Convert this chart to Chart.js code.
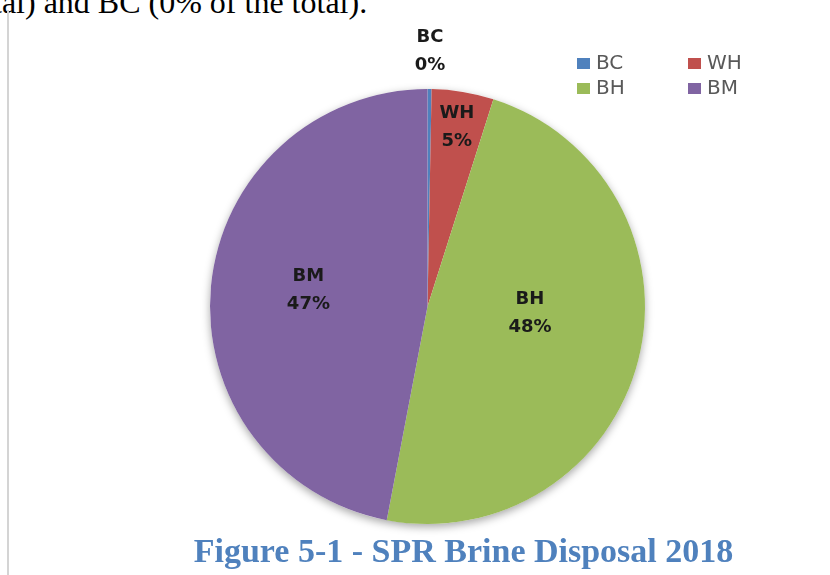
<!DOCTYPE html>
<html>
<head>
<meta charset="utf-8">
<script src="https://cdn.jsdelivr.net/npm/chart.js@4.4.1/dist/chart.umd.min.js"></script>
<style>
  html,body{margin:0;padding:0;background:#fff;width:830px;height:575px;overflow:hidden;}
  #wrap{position:relative;width:830px;height:575px;}
  #pie{position:absolute;left:0;top:0;}
  .topline{position:absolute;left:-7px;top:-16px;font:32px "Liberation Serif","Times New Roman",serif;color:#000;white-space:nowrap;}
  .rule{position:absolute;left:7px;top:10px;width:2px;height:565px;background:#d4d4d4;}
  .caption{position:absolute;left:0;width:927px;top:532px;text-align:center;font:bold 34px "Liberation Serif","Times New Roman",serif;color:#4f81bd;white-space:nowrap;}
</style>
</head>
<body>
<div id="wrap">
  <div class="topline">tal) and BC (0% of the total).</div>
  <div class="rule"></div>
  <canvas id="pie" width="830" height="575"></canvas>
  <div class="caption">Figure 5-1 - SPR Brine Disposal 2018</div>
</div>
<script>
'use strict';

/* ── DATA ──────────────────────────────────── */
const sites   = ['BC', 'WH', 'BH', 'BM'];
const shares  = [0.3, 4.6, 48.1, 47.0];   // percent of total brine disposed
const colours = ['#4f81bd', '#c0504d', '#9bbb59', '#8064a2'];

/* ── LABEL PLACEMENT (style only) ──────────── */
const labelRadius = [1.18, 0.83, 0.50, 0.55];
const labelNudge  = [[0, 1], [0, -1], [-3, -20], [0, -5]];
const legendCols  = [577, 688];
const legendRows  = [63, 88];

const total = shares.reduce((a, b) => a + b, 0);

/* ── PLUGINS ───────────────────────────────── */
const pieShadow = {
  id: 'pieShadow',
  beforeDatasetsDraw(chart) {
    const arc = chart.getDatasetMeta(0).data[0];
    if (!arc) return;
    const { x, y, outerRadius } = arc.getProps(['x', 'y', 'outerRadius'], true);
    const c = chart.ctx;
    c.save();
    c.shadowColor = 'rgba(0,0,0,0.35)';
    c.shadowBlur = 9;
    c.shadowOffsetY = 3;
    c.fillStyle = '#fff';
    c.beginPath();
    c.arc(x, y, outerRadius, 0, Math.PI * 2);
    c.fill();
    c.restore();
  }
};

const sliceLabels = {
  id: 'sliceLabels',
  afterDatasetsDraw(chart) {
    const c = chart.ctx;
    c.save();
    c.font = 'bold 18px "DejaVu Sans", sans-serif';
    c.fillStyle = '#1a1a1a';
    c.textAlign = 'center';
    c.textBaseline = 'middle';
    chart.getDatasetMeta(0).data.forEach((arc, i) => {
      const p = arc.getProps(['x', 'y', 'startAngle', 'endAngle', 'outerRadius'], true);
      const mid = (p.startAngle + p.endAngle) / 2;
      const r = p.outerRadius * labelRadius[i];
      const lx = p.x + Math.cos(mid) * r + labelNudge[i][0];
      const ly = p.y + Math.sin(mid) * r + labelNudge[i][1];
      const pct = Math.round(shares[i] / total * 100) + '%';
      c.fillText(sites[i], lx, ly - 14);
      c.fillText(pct, lx, ly + 14);
    });
    c.restore();
  }
};

const sideLegend = {
  id: 'sideLegend',
  afterDraw(chart) {
    const c = chart.ctx;
    c.save();
    c.font = '20px "DejaVu Sans", sans-serif';
    c.textBaseline = 'middle';
    c.textAlign = 'left';
    sites.forEach((s, i) => {
      const x = legendCols[i % 2], y = legendRows[Math.floor(i / 2)];
      c.fillStyle = colours[i];
      c.fillRect(x, y - 5, 13, 11);
      c.fillStyle = '#595959';
      c.fillText(s, x + 19, y + 1);
    });
    c.restore();
  }
};

/* ── CHART ─────────────────────────────────── */
new Chart(document.getElementById('pie'), {
  type: 'pie',
  data: {
    labels: sites,
    datasets: [{ data: shares, backgroundColor: colours, borderWidth: 0 }]
  },
  options: {
    responsive: false,
    animation: false,
    devicePixelRatio: 1,
    layout: { padding: { left: 210, right: 185, top: 89, bottom: 51 } },
    plugins: { legend: { display: false }, tooltip: { enabled: false } }
  },
  plugins: [pieShadow, sliceLabels, sideLegend]
});
</script>
</body>
</html>
